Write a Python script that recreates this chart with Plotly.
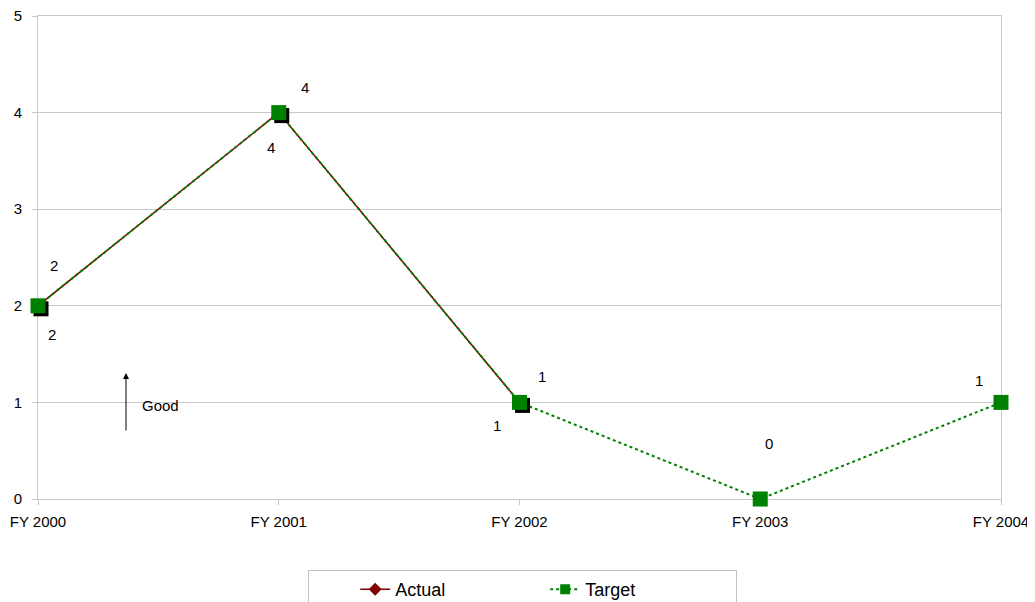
import plotly.graph_objects as go

# ---- data ----
categories = ["FY 2000", "FY 2001", "FY 2002", "FY 2003", "FY 2004"]
actual = [2, 4, 1, None, None]
target = [2, 4, 1, 0, 1]
y_ticks = [0, 1, 2, 3, 4, 5]

# ---- style constants ----
FONT = "Liberation Sans, Arial, sans-serif"
GRID = "#c8c8c8"
RED = "#800000"
GREEN = "#008000"
OFF = 8  # default page body margin
W, H = 1035 - OFF, 602 - OFF
M = dict(l=38 - OFF, r=34, t=16 - OFF, b=103, autoexpand=False)
plot_w = W - M["l"] - M["r"]
plot_h = H - M["t"] - M["b"]
plot_left = M["l"] + OFF
plot_bottom = H - M["b"] + OFF
x_idx = list(range(len(categories)))
x_span = len(categories) - 1
y_span = y_ticks[-1] - y_ticks[0]
px_x = x_span / plot_w
px_y = y_span / plot_h

# label pixel shifts (x right, y up)
target_shift = [(16, 40), (26, 25), (22, 26), (9, 56), (-22, 22)]
actual_shift = [(14, -29), (-8, -35), (-23, -23), None, None]

fig = go.Figure()

fig.add_trace(go.Scatter(
    x=x_idx, y=actual, mode="lines+markers", showlegend=False,
    line=dict(color=RED, width=1.5),
    marker=dict(symbol="diamond", size=10, color=RED),
    cliponaxis=False, hoverinfo="skip"))

fig.add_trace(go.Scatter(
    x=x_idx, y=target, mode="lines", showlegend=False,
    line=dict(color=GREEN, width=2, dash="dot"),
    cliponaxis=False, hoverinfo="skip"))

# shadow behind target markers
fig.add_trace(go.Scatter(
    x=[i + 3 * px_x for i in x_idx], y=[v - 3 * px_y for v in target],
    mode="markers", showlegend=False,
    marker=dict(symbol="square", size=15, color="black"),
    cliponaxis=False, hoverinfo="skip"))

fig.add_trace(go.Scatter(
    x=x_idx, y=target, mode="markers", showlegend=False,
    marker=dict(symbol="square", size=15, color=GREEN,
                line=dict(color=GREEN, width=0)),
    cliponaxis=False, hoverinfo="skip"))

# legend entries
fig.add_trace(go.Scatter(
    x=[None], y=[None], mode="lines+markers", name="Actual",
    line=dict(color=RED, width=1.5),
    marker=dict(symbol="diamond", size=10, color=RED)))
fig.add_trace(go.Scatter(
    x=[None], y=[None], mode="lines+markers", name="Target",
    line=dict(color=GREEN, width=2, dash="dot"),
    marker=dict(symbol="square", size=10, color=GREEN)))

annotations = []
for i, (v, s) in enumerate(zip(target, target_shift)):
    annotations.append(dict(x=i, y=v, text=str(v), showarrow=False,
                            xshift=s[0], yshift=s[1],
                            font=dict(family=FONT, size=15, color="black")))
for i, (v, s) in enumerate(zip(actual, actual_shift)):
    if v is None:
        continue
    annotations.append(dict(x=i, y=v, text=str(v), showarrow=False,
                            xshift=s[0], yshift=s[1],
                            font=dict(family=FONT, size=15, color="black")))

# "Good" arrow (reference pixel positions converted to axis units)
arrow_x = (126 - plot_left) * px_x
annotations.append(dict(x=arrow_x, y=(plot_bottom - 373) * px_y,
                        ax=arrow_x, ay=(plot_bottom - 432) * px_y,
                        xref="x", yref="y", axref="x", ayref="y",
                        text="", showarrow=True, arrowhead=2, arrowsize=1.2,
                        arrowwidth=1, arrowcolor="black"))
annotations.append(dict(x=(140 - plot_left) * px_x, y=(plot_bottom - 405) * px_y,
                        text="Good", showarrow=False, xanchor="left",
                        font=dict(family=FONT, size=15, color="black")))

fig.update_layout(
    width=W, height=H, margin=M,
    paper_bgcolor="white", plot_bgcolor="white",
    font=dict(family=FONT, size=15, color="black"),
    annotations=annotations,
    legend=dict(orientation="h", x=(522 - plot_left) / plot_w, xanchor="center",
                y=(plot_bottom - 570) / plot_h, yanchor="top",
                bordercolor="#c0c0c0", borderwidth=1, bgcolor="white",
                font=dict(family=FONT, size=18, color="black"),
                title=dict(text="&nbsp;" * 6, side="left"),
                entrywidth=145, entrywidthmode="pixels", tracegroupgap=0),
    xaxis=dict(range=[0, x_span], tickmode="array", tickvals=x_idx,
               ticktext=categories, showgrid=False, zeroline=False,
               showline=True, linecolor=GRID, linewidth=1, mirror=True,
               ticks="outside", ticklen=5, tickcolor=GRID, automargin=False,
               ticklabelstandoff=4, ticklabeloverflow="allow", layer="below traces",
               tickfont=dict(family=FONT, size=15, color="black")),
    yaxis=dict(range=[y_ticks[0], y_ticks[-1]], tickmode="array", tickvals=y_ticks,
               showgrid=True, gridcolor=GRID, gridwidth=1, zeroline=False,
               showline=True, linecolor=GRID, linewidth=1, mirror=True,
               ticks="outside", ticklen=5, tickcolor=GRID, automargin=False,
               ticklabelstandoff=7, ticklabeloverflow="allow", layer="below traces",
               tickfont=dict(family=FONT, size=15, color="black")),
)

fig.write_html("out.html")
